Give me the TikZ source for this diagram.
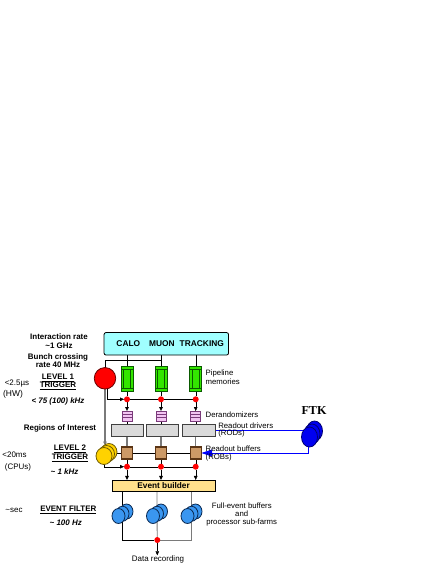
\documentclass[tikz,border=0pt]{standalone}
\usepackage{fontspec}
\setmainfont{Liberation Sans}
\newfontfamily\serifb{Liberation Serif}
\usetikzlibrary{arrows.meta,backgrounds,shapes.geometric}
\definecolor{cyanbox}{HTML}{A0FFFF}
\definecolor{grf}{HTML}{33E600}
\definecolor{dkgr}{HTML}{0A5A00}
\definecolor{pinkf}{HTML}{F2C4F2}
\definecolor{pinkd}{HTML}{7A3A7A}
\definecolor{rodf}{HTML}{DADADA}
\definecolor{rodd}{HTML}{404040}
\definecolor{brownf}{HTML}{CC9966}
\definecolor{brownd}{HTML}{5A3414}
\definecolor{ebf}{HTML}{FFE08C}
\definecolor{yelf}{HTML}{FFD200}
\definecolor{yeld}{HTML}{6E5A00}
\definecolor{bluef}{HTML}{3A96F0}
\definecolor{blued}{HTML}{0A2850}
\definecolor{ftkf}{HTML}{0000F0}
\definecolor{ftkd}{HTML}{000070}
\definecolor{lineblue}{HTML}{0000FF}
\definecolor{lgray}{HTML}{7A7A7A}
\begin{document}
\begin{tikzpicture}[x=1bp,y=-1bp,line width=0.8bp,
  every node/.style={inner sep=0pt,outer sep=0pt},
  lb/.style={font=\fontsize{8}{8.6}\selectfont\bfseries,align=center},
  lbi/.style={font=\fontsize{8}{8.6}\selectfont\bfseries\itshape,align=center},
  lr/.style={font=\fontsize{8}{8.6}\selectfont,align=center},
  rl/.style={font=\fontsize{7.8}{8.6}\selectfont,anchor=west,align=left},
  tip/.style={-{Triangle[length=4bp,width=3.6bp]}},
  bigtip/.style={-{Triangle[length=11bp,width=7bp]}},
  topbox/.style={draw=black,fill=cyanbox,rounded corners=2bp,minimum width=124.5bp,minimum height=22.5bp},
  greenbox/.style={draw=dkgr,fill=grf,minimum width=12bp,minimum height=25bp},
  pinkbox/.style={draw=pinkd,fill=pinkf,minimum width=10bp,minimum height=10bp},
  rodbox/.style={draw=rodd,fill=rodf,minimum height=11.7bp},
  brownbox/.style={draw=brownd,fill=brownf,line width=1.2bp,minimum width=11bp,minimum height=12bp},
  ebbox/.style={draw=black,fill=ebf,minimum width=102.7bp,minimum height=11.7bp,font=\fontsize{8.3}{9}\selectfont\bfseries},
  rdot/.style={circle,fill=red,minimum size=6bp},
  l1c/.style={circle,draw=black!60!red,fill=red,minimum size=21.5bp},
  yelc/.style={ellipse,draw=yeld,fill=yelf,minimum width=16bp,minimum height=17bp},
  bluec/.style={ellipse,draw=blued,fill=bluef,minimum width=13bp,minimum height=15bp},
  ftkc/.style={ellipse,draw=ftkd,fill=ftkf,minimum width=16bp,minimum height=20bp},
  glines/.style={draw=dkgr,line width=0.6bp},
  plines/.style={draw=pinkd,line width=0.5bp},
  grayline/.style={draw=lgray,line width=1.2bp},
  bline/.style={draw=lineblue,line width=1bp}
]
\useasboundingbox (0,0) rectangle (436,564);

% top box
\node[topbox] (top) at (166.3,343.8) {};
\node[font=\fontsize{8.4}{9}\selectfont\bfseries] (cmt) at (170.2,344) {CALO\hspace{9bp}MUON\hspace{5bp}TRACKING};

% level 1 circle
\node[l1c] (r1) at (105,378.3) {};

% columns
\foreach \i/\x in {1/127,2/161,3/195.7} {
  \node[greenbox] (g\i) at (\x,378.5) {};
  \draw[glines] ([yshift=-3bp]g\i.north west) -- ([yshift=-3bp]g\i.north east)
     ([yshift=3bp]g\i.south west) -- ([yshift=3bp]g\i.south east)
     ([xshift=2.5bp,yshift=-3bp]g\i.north west) -- ([xshift=2.5bp,yshift=3bp]g\i.south west)
     ([xshift=-2.5bp,yshift=-3bp]g\i.north east) -- ([xshift=-2.5bp,yshift=3bp]g\i.south east);
  \node[rdot] (d\i) at (\x,399.3) {};
  \node[pinkbox] (p\i) at (\x,416) {};
  \draw[plines] ([yshift=-3.3bp]p\i.north west) -- ([yshift=-3.3bp]p\i.north east)
     ([yshift=3.3bp]p\i.south west) -- ([yshift=3.3bp]p\i.south east);
  \node[brownbox] (b\i) at (\x,453) {};
  \node[rdot] (e\i) at (\x,466.7) {};
}

% RODs
\node[rodbox,minimum width=32.6bp] (rod1) at (127.2,430.2) {};
\node[rodbox,minimum width=31.6bp] (rod2) at (162.5,430.2) {};
\node[rodbox,minimum width=32.3bp] (rod3) at (198.8,430.2) {};

% level 2 processors
\node[yelc] (y3) at (109,452) {};
\node[yelc] (y2) at (106.5,454) {};
\node[yelc] (y1) at (104,456) {};

% event builder
\node[ebbox] (eb) at (163.6,485.8) {Event builder};

% event filter farms
\foreach \i/\x in {1/118.5,2/153,3/187.5} {
  \node[bluec] (a\i c) at (\x+8,511.5) {};
  \node[bluec] (a\i b) at (\x+4,513.75) {};
  \node[bluec] (a\i a) at (\x,516) {};
}
\node[rdot] (dr) at (157.3,540) {};

% FTK
\node[ftkc] (f3) at (314.5,431) {};
\node[ftkc] (f2) at (312,434) {};
\node[ftkc] (f1) at (309.5,437) {};
\node[font=\fontsize{12.2}{13}\selectfont\serifb\bfseries] (ftk) at (314,410.5) {FTK};

% connectors
\begin{pgfonlayer}{background}
  \coordinate (h1) at (105,360.5);
  \coordinate (h2) at (161,360.5);
  \foreach \i in {1,2,3} {
    \draw (g\i.north |- top.south) -- (g\i.north);
    \draw (g\i.south) -- (d\i);
    \draw[tip] (d\i) -- (p\i.north);
    \draw (p\i.south) -- (p\i.south |- rod1.north);
    \draw[grayline] (b\i.north |- rod1.south) -- (b\i.north);
    \draw (b\i.south) -- (e\i);
    \draw[tip] (e\i) -- (e\i |- eb.north);
  }
  \draw (r1.north) -- (h1) -- (h2);
  \draw[tip] ([xshift=2.5bp]r1.south) |- (d1.west);
  \draw (d1) -- (d2) -- (d3);
  \draw[grayline,tip] (r1.south) -- (r1.south |- y2.north);
  \draw (y3.east |- b1) -- (b1.west);
  \draw (b1.east) -- (b2.west);
  \draw (b2.east) -- (b3.west);
  \draw[tip] (y1.south) |- (e1.west);
  \draw (e1) -- (e2) -- (e3);
  % event builder to farms
  \draw (a1b |- eb.south) -- (a1b.center) |- (dr);
  \draw[grayline,line width=0.9bp] (a2b |- eb.south) -- (a2b.center) -- (dr);
  \draw[grayline,line width=0.9bp] (a3b |- eb.south) -- (a3b.center) |- (dr);
  % FTK links
  \draw[bline] (rod3.east) -- (rod3.east -| f2.center);
  \draw[bline,bigtip] ([xshift=-1.5bp]f1.south) |- (b3.east);
\end{pgfonlayer}

% data recording
\node[lr] (rec) at (158,559) {Data recording};
\draw[tip] (dr) -- (dr |- rec.north);

% left labels
\node[lb] (il) at (59,341.2) {Interaction rate\\\textasciitilde1 GHz};
\node[lb] (bc) at (58,360.5) {Bunch crossing\\rate 40 MHz};
\node[lb] (lv1) at (58,382) {\underline{LEVEL 1}\\\underline{TRIGGER}};
\node[lr] (t1) at (17,384) {<2.5\textmu s};
\node[lr,font=\fontsize{8.5}{9}\selectfont] (hw) at (13,394.5) {(HW)};
\node[lbi] (r75) at (58,401) {< 75 (100) kHz};
\node[lb] (roi) at (60,428.5) {Regions of Interest};
\node[lb] (lv2) at (70,453.5) {\underline{LEVEL 2}\\\underline{TRIGGER}};
\node[lr] (t2) at (14.5,454.3) {<20ms};
\node[lr] (cpu) at (18,467.7) {(CPUs)};
\node[lbi] (k1) at (64.5,471.7) {\textasciitilde{} 1 kHz};
\node[lr] (sec) at (14,510) {\textasciitilde sec};
\node[lb] (ef) at (68.3,510) {\underline{EVENT FILTER}};
\node[lbi] (h100) at (65.7,522.3) {\textasciitilde{} 100 Hz};

% right labels
\node[rl] (pm) at (205.7,377.2) {Pipeline\\memories};
\node[rl] (der) at (205.7,414.3) {Derandomizers};
\node[rl,font=\fontsize{7.8}{7.4}\selectfont] (rd) at (218.3,429.7) {Readout drivers\\(RODs)};
\node[rl,font=\fontsize{7.8}{7.4}\selectfont] (rb) at (205.7,453.6) {Readout buffers\\(ROBs)};
\node[lr,font=\fontsize{7.8}{7.9}\selectfont] (feb) at (241.7,514.5) {Full-event buffers\\and\\processor sub-farms};
\end{tikzpicture}
\end{document}
